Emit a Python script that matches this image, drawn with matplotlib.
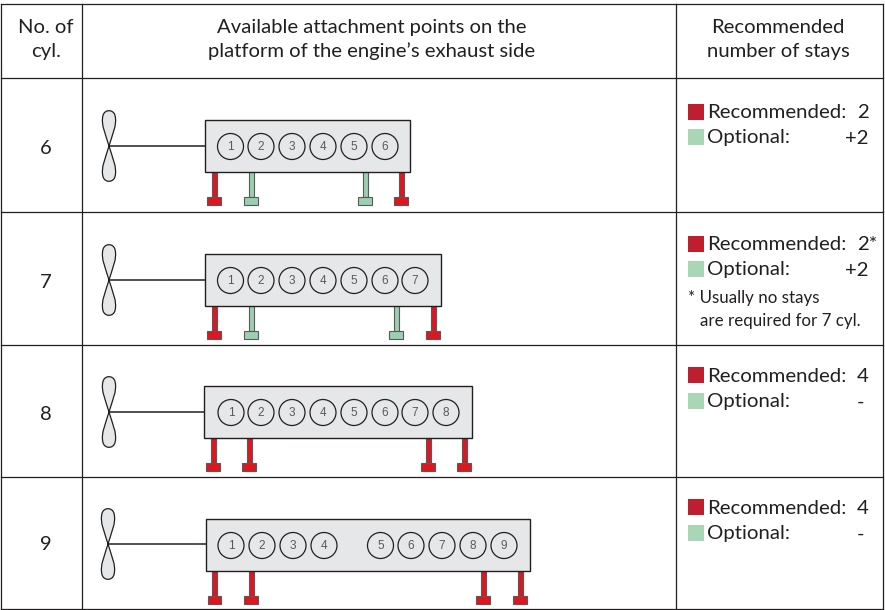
import matplotlib
matplotlib.use("Agg")
import matplotlib.pyplot as plt
from matplotlib.patches import Circle, PathPatch, Rectangle
from matplotlib.path import Path

plt.rcParams['font.family'] = ['Lato', 'DejaVu Sans']

CYLINDERS = [6, 7, 8, 9]
RECOMMENDED = ['2', '2*', '4', '4']
OPTIONAL = ['+2', '+2', '-', '-']
STAY_KINDS = [
	['rec', 'opt', 'opt', 'rec'],
	['rec', 'opt', 'opt', 'rec'],
	['rec', 'rec', 'rec', 'rec'],
	['rec', 'rec', 'rec', 'rec'],
]
HEADERS = ['No. of\ncyl.',
	'Available attachment points on the\nplatform of the engine\u2019s exhaust side',
	'Recommended\nnumber of stays']
FOOTNOTE = ['* Usually no stays', 'are required for 7 cyl.']

# layout in reference pixels
ROW_LINES = [4, 78, 212, 345, 477, 609]
COL_LINES = [1, 82, 676, 883]
BOX_X = [(205, 410), (205, 441), (203.5, 472), (206, 529.5)]
BOX_Y = [120, 254, 386, 519]
BOX_H = 51.5
CYL_X = [
	[230.5, 261, 292, 323, 354, 385],
	[230.5, 261, 292, 323, 354, 385, 415],
	[231, 261, 292, 323, 354, 385, 415, 446],
	[231, 262, 293, 324, 380.5, 411, 442, 473, 504],
]
STAY_X = [[214, 251, 365, 401], [214, 251, 396, 433], [213, 249, 428, 464], [214.5, 251, 483, 520]]
PROP_X = [109, 109, 109, 108]
PROP_Y = [146, 280, 412, 544]
LABEL_Y = [149, 282, 414, 545]
SWATCH_Y = [(104, 129), (236, 261), (367, 393), (499, 525)]

TEXT = '#231f20'
LINE = '#231f20'
RED = '#e2151f'
GREEN = '#9ccfb0'
RED_KEY = '#be1e2d'
GREEN_KEY = '#a9d6b4'
BODY = '#e6e7e8'


def blade(ax, x, y, sign):
	h = 35.5 * sign
	verts = [(x, y),
		(x - 3, y - h * 0.3), (x - 8.5, y - h * 0.6), (x - 6, y - h * 0.86),
		(x - 4.5, y - h * 1.04), (x + 4.5, y - h * 1.04), (x + 6, y - h * 0.86),
		(x + 8.5, y - h * 0.6), (x + 3, y - h * 0.3), (x, y)]
	codes = [Path.MOVETO] + [Path.CURVE4] * 9
	ax.add_patch(PathPatch(Path(verts, codes), fc=BODY, ec=LINE, lw=0.9, zorder=3))


fig = plt.figure(figsize=(8.85, 6.10), dpi=100)
ax = fig.add_axes([0, 0, 1, 1])
ax.set_xlim(0, 885)
ax.set_ylim(610, 0)
ax.axis('off')

for y in ROW_LINES:
	ax.plot([COL_LINES[0], COL_LINES[-1]], [y, y], c=LINE, lw=0.9)
for x in COL_LINES:
	ax.plot([x, x], [ROW_LINES[0], ROW_LINES[-1]], c=LINE, lw=0.9)

for x, txt in zip([46, 372, 778], HEADERS):
	ax.text(x, 39.5, txt, ha='center', va='center', fontsize=14.6, color=TEXT, linespacing=1.45)

for i, cyl in enumerate(CYLINDERS):
	x0, x1 = BOX_X[i]
	y0 = BOX_Y[i]
	y1 = y0 + BOX_H
	ax.text(46, LABEL_Y[i], str(cyl), ha='center', va='center', fontsize=14.6, color=TEXT)

	# propeller and shaft
	ax.plot([PROP_X[i], x0], [PROP_Y[i], PROP_Y[i]], c=LINE, lw=1.1, zorder=2)
	blade(ax, PROP_X[i], PROP_Y[i], 1)
	blade(ax, PROP_X[i], PROP_Y[i], -1)

	# stays, drawn before the engine body
	for sx, kind in zip(STAY_X[i], STAY_KINDS[i]):
		col = RED if kind == 'rec' else GREEN
		ax.add_patch(Rectangle((sx - 2.5, y1), 5, 25.5, fc=col, ec='#58595b', lw=0.8, zorder=2))
		ax.add_patch(Rectangle((sx - 6.8, y1 + 25.5), 13.6, 8, fc=col, ec='#58595b', lw=0.8, zorder=3))

	ax.add_patch(Rectangle((x0, y0), x1 - x0, BOX_H, fc=BODY, ec=LINE, lw=1.0, zorder=3))

	cy = y0 + 26.5
	for n, cx in enumerate(CYL_X[i]):
		ax.add_patch(Circle((cx, cy), 13, fc=BODY, ec=LINE, lw=0.9, zorder=4))
		ax.text(cx, cy + 0.5, str(n + 1), ha='center', va='center', fontsize=8.5, color='#58595b',
			family=['Liberation Sans'], zorder=5)

	# recommended/optional key, all on one baseline per line
	ry, oy = SWATCH_Y[i]
	ax.add_patch(Rectangle((688, ry), 16, 16, fc=RED_KEY, ec='none'))
	ax.add_patch(Rectangle((688, oy), 16, 16, fc=GREEN_KEY, ec='none'))
	ax.text(707, ry + 14.5, 'Recommended:', ha='left', va='baseline', fontsize=14.7, color=TEXT)
	ax.text(707, oy + 14.5, 'Optional:', ha='left', va='baseline', fontsize=14.7, color=TEXT)
	ax.text(857, ry + 14.5, RECOMMENDED[i], ha='left', va='baseline', fontsize=14.7, color=TEXT)
	ax.text(868 if OPTIONAL[i] != '-' else 864, oy + 14.5, OPTIONAL[i], ha='right', va='baseline', fontsize=14.7, color=TEXT)

ax.text(688, 298, FOOTNOTE[0], ha='left', va='center', fontsize=12.2, color=TEXT)
ax.text(700, 321, FOOTNOTE[1], ha='left', va='center', fontsize=12.2, color=TEXT)

fig.savefig('out.png', dpi=100)
